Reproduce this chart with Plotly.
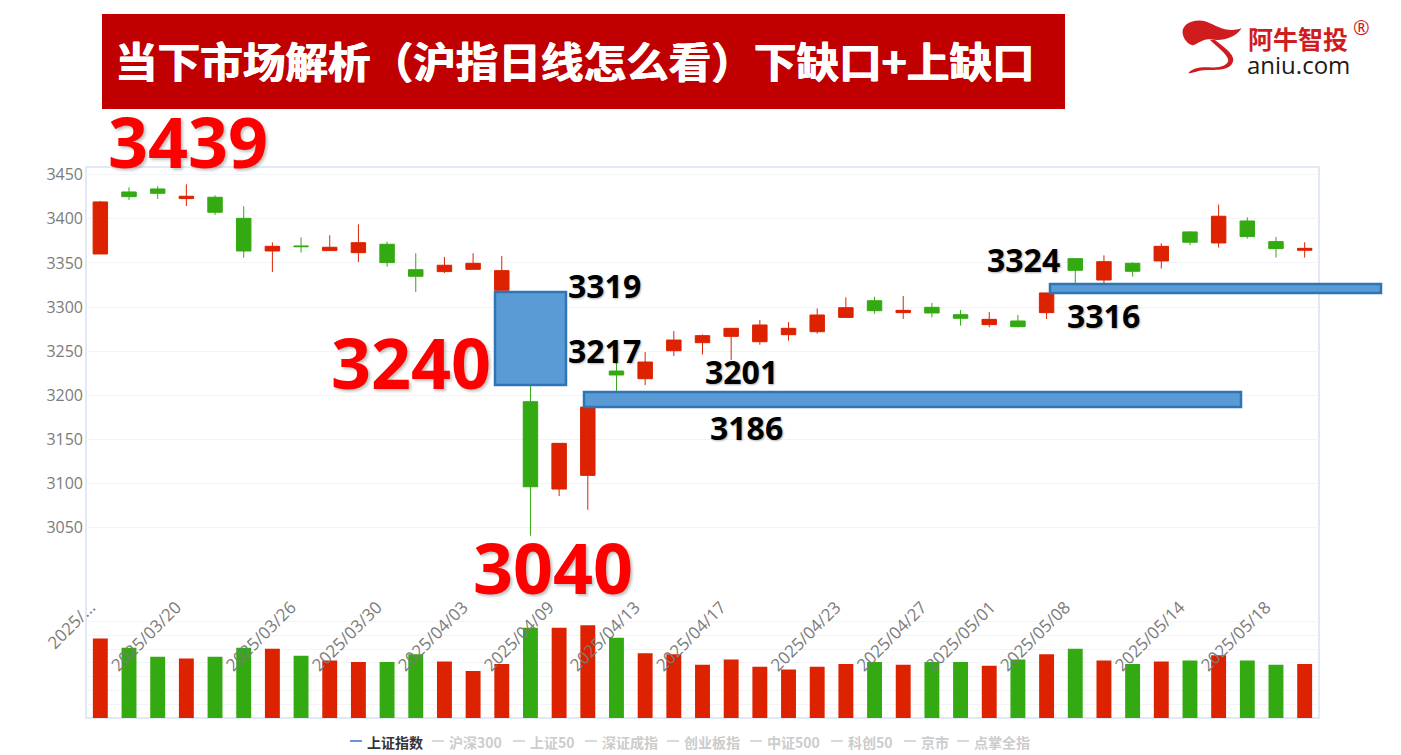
import plotly.graph_objects as go

W, H = 1401, 755
# plot frame in page pixels
L, R, T, B = 86, 1319, 167, 718

dates = ["03/17", "03/18", "03/19", "03/20", "03/21", "03/24", "03/25", "03/26", "03/27", "03/28", "03/30",
         "03/31", "04/01", "04/03", "04/04", "04/08", "04/09", "04/10", "04/11", "04/13", "04/14", "04/15",
         "04/17", "04/18", "04/21", "04/22", "04/23", "04/24", "04/25", "04/27", "04/28", "05/01", "05/06",
         "05/07", "05/08", "05/09", "05/12", "05/13", "05/14", "05/15", "05/16", "05/18", "05/19"]

opens = [3360.2, 3430.5, 3433.9, 3423.0, 3424.5, 3400.6, 3363.6, 3369.3, 3364.0, 3361.7, 3371.2, 3342.4, 3340.2,
         3342.8, 3319.0, 3192.7, 3093.7, 3109.2, 3227.5, 3218.8, 3250.5, 3259.6, 3266.8, 3260.7, 3268.7, 3272.1,
         3288.3, 3307.2, 3293.7, 3299.7, 3291.4, 3280.1, 3284.2, 3293.7, 3354.9, 3330.7, 3349.6, 3352.3, 3385.2,
         3372.7, 3397.6, 3374.2, 3364.4]
closes = [3419.2, 3425.2, 3429.0, 3425.6, 3407.5, 3363.6, 3368.9, 3368.5, 3367.8, 3373.0, 3350.4, 3334.9, 3347.4,
          3349.6, 3341.3, 3096.3, 3145.5, 3186.6, 3223.0, 3237.7, 3262.6, 3267.6, 3275.9, 3279.7, 3275.9, 3291.0,
          3299.3, 3295.9, 3296.3, 3293.3, 3287.3, 3286.1, 3277.8, 3316.0, 3341.7, 3351.5, 3340.6, 3368.9, 3373.5,
          3403.0, 3379.9, 3366.3, 3366.6]
highs = [3420.3, 3435.8, 3437.0, 3439.2, 3426.7, 3414.3, 3373.4, 3379.1, 3381.4, 3393.8, 3374.2, 3361.0, 3356.8,
         3361.0, 3357.9, 3217.0, 3145.5, 3186.6, 3237.0, 3249.0, 3272.8, 3269.0, 3275.9, 3285.3, 3283.0, 3298.5,
         3311.0, 3311.8, 3312.6, 3304.7, 3296.7, 3294.5, 3291.0, 3316.0, 3355.7, 3358.7, 3350.8, 3372.3, 3386.0,
         3416.2, 3401.8, 3379.5, 3373.5]
lows = [3360.0, 3421.4, 3422.6, 3414.6, 3404.4, 3356.0, 3339.8, 3361.7, 3364.0, 3351.1, 3345.8, 3317.1, 3338.7,
        3342.8, 3319.0, 3040.8, 3085.7, 3070.2, 3201.0, 3211.6, 3244.5, 3246.4, 3240.0, 3257.3, 3261.9, 3269.8,
        3288.3, 3292.5, 3286.5, 3288.4, 3279.0, 3277.1, 3277.1, 3286.5, 3324.0, 3326.0, 3334.5, 3343.6, 3370.4,
        3367.4, 3377.6, 3356.1, 3356.1]
volumes = [5772, 5096, 4444, 4323, 4444, 5096, 5023, 4516, 4178, 4057, 4057, 4637, 4105, 3405, 3912, 6545, 6545,
           6738, 5820, 4709, 4637, 3864, 4250, 3719, 3526, 3719, 3912, 4057, 3864, 4057, 4057, 3792, 4250, 4637,
           5023, 4178, 3912, 4105, 4178, 4564, 4178, 3864, 3912]

tick_idx = [0, 3, 7, 10, 13, 16, 19, 22, 26, 29, 31.4, 34, 38, 41]
tick_labels = ["2025/...", "2025/03/20", "2025/03/26", "2025/03/30", "2025/04/03", "2025/04/09", "2025/04/13",
               "2025/04/17", "2025/04/23", "2025/04/27", "2025/05/01", "2025/05/08", "2025/05/14", "2025/05/18"]

legend_names = ["上证指数", "沪深300", "上证50", "深证成指", "创业板指", "中证500", "科创50", "京市", "点掌全指"]
legend_x = [350, 432, 513, 585, 667, 750, 831, 904, 957]

RED = "#dd2200"
GREEN = "#33aa11"
BLUE = "#5b9bd5"
BLUE_EDGE = "#2e75b6"
GRID = "#f3f4f7"


def fx(p):
    return (p - L) / (R - L)


def fy(p):
    return (B - p) / (B - T)


def px_path(cmds):
    # cmds use the logo crop's 3x coords, turned into paper fractions
    out = []
    for c in cmds:
        if isinstance(c, str):
            out.append(c)
        else:
            out.append(f"{fx(1160 + c[0] / 3):.5f},{fy(5 + c[1] / 3):.5f}")
    return " ".join(out)


def note(text, x, y, size, color, bold=True, family="Open Sans", shadow=None, xanchor="center"):
    fig.add_annotation(
        text=f"<b>{text}</b>" if bold else text, xref="paper", yref="paper", x=fx(x), y=fy(y),
        showarrow=False, xanchor=xanchor, yanchor="middle",
        font=dict(family=family, size=size, color=color, shadow=shadow),
    )


def box(x0, y0, x1, y1, fill, edge=None, width=0):
    fig.add_shape(type="rect", xref="paper", yref="paper", x0=fx(x0), x1=fx(x1), y0=fy(y0), y1=fy(y1),
                  fillcolor=fill, line=dict(color=edge or fill, width=width), layer="above")


fig = go.Figure()
# volume sits on the first y axis so the date labels draw over its bars
fig.add_trace(go.Bar(
    x=dates, y=volumes, yaxis="y", width=0.52,
    marker=dict(color=[RED if c >= o else GREEN for o, c in zip(opens, closes)], line=dict(width=0)),
    hoverinfo="none", showlegend=False,
))
fig.add_trace(go.Candlestick(
    x=dates, open=opens, high=highs, low=lows, close=closes, yaxis="y2",
    increasing=dict(line=dict(color=RED, width=1), fillcolor=RED),
    decreasing=dict(line=dict(color=GREEN, width=1), fillcolor=GREEN),
    whiskerwidth=0, hoverinfo="none", showlegend=False,
))

fig.update_layout(
    width=W, height=H, margin=dict(l=L, r=W - R, t=T, b=H - B),
    paper_bgcolor="white", plot_bgcolor="white", boxgap=0.28, showlegend=False,
    xaxis=dict(
        type="category", categoryorder="array", categoryarray=dates, range=[-0.5, 42.5],
        rangeslider=dict(visible=False), anchor="free", position=fy(593), showline=False, showgrid=False,
        zeroline=False, ticks="", tickmode="array", tickvals=tick_idx, ticktext=tick_labels, tickangle=-45,
        ticklabelshift=-10, tickfont=dict(family="Open Sans", size=17, color="#7b7b7b"),
    ),
    yaxis2=dict(
        domain=[fy(538), 1], range=[3038.2, 3458.8], tickmode="linear", tick0=3050, dtick=50, showgrid=True,
        gridcolor=GRID, gridwidth=1, zeroline=False, showline=False, ticks="", ticklen=0, anchor="x",
        ticklabelstandoff=2, tickfont=dict(family="Open Sans", size=16, color="#7b7b7b"),
    ),
    yaxis=dict(
        domain=[0, 0.2], range=[0, 8000], tick0=0, dtick=1000, showgrid=True, gridcolor=GRID, gridwidth=1,
        zeroline=False, showline=False, showticklabels=False, ticks="", anchor="x",
    ),
)

# chart frame
fig.add_shape(type="rect", xref="paper", yref="paper", x0=0, x1=1, y0=0, y1=1,
              line=dict(color="#d9e2f3", width=1.5), layer="below")

# title banner
box(102, 14, 1065, 109, "#c00000")
note("当下市场解析（沪指日线怎么看）下缺口+上缺口", 574.5, 60, 42.6, "white", family="Noto Sans CJK SC",
     shadow="0.6px 0 0 white, -0.6px 0 0 white")

# gap boxes
box(495, 292, 566, 385, BLUE, BLUE_EDGE, 2.5)
box(584, 392, 1241, 407, BLUE, BLUE_EDGE, 2.5)
box(1050, 284, 1381, 293, BLUE, BLUE_EDGE, 2.5)

big_shadow = "2px 2px 3px rgba(0,0,0,0.25)"
for text, x, y in [("3439", 188, 141), ("3240", 411, 362), ("3040", 552.5, 567)]:
    note(text, x, y, 70, "#ff0000", shadow=big_shadow)
for text, x, y in [("3319", 604.5, 285), ("3217", 604.5, 350), ("3201", 741, 371), ("3186", 746, 427),
                   ("3324", 1023.5, 259), ("3316", 1103.5, 315)]:
    note(text, x, y, 32, "black", shadow="1px 1px 2px rgba(0,0,0,0.3)")

# logo
logo_red = "#cf1c1e"
fig.add_shape(type="path", xref="paper", yref="paper", fillcolor=logo_red, line=dict(width=0), layer="above",
              path=px_path(["M", (68, 75), "C", (75, 50), (110, 40), (140, 50), "C", (170, 62), (200, 85), (245, 70),
                            "C", (225, 100), (185, 110), (150, 103), "C", (125, 100), (105, 125), (95, 120),
                            "C", (80, 115), (65, 95), (68, 75), "Z"]))
fig.add_shape(type="path", xref="paper", yref="paper", fillcolor=logo_red, line=dict(width=0), layer="above",
              path=px_path(["M", (150, 105), "L", (165, 105), "C", (190, 125), (220, 145), (220, 165),
                            "C", (215, 195), (180, 195), (140, 195), "C", (115, 195), (100, 205), (85, 205),
                            "C", (95, 188), (125, 185), (150, 187), "C", (180, 190), (205, 180), (205, 165),
                            "C", (200, 145), (170, 125), (150, 105), "Z"]))
note("阿牛智投", 1298, 38, 25, logo_red, family="Noto Sans CJK SC")
note("aniu.com", 1298, 64, 24, "#231815", bold=False, family="Open Sans")
note("®", 1361, 27, 20, logo_red, bold=False, family="Open Sans")

# legend row
for i, (name, x) in enumerate(zip(legend_names, legend_x)):
    on = i == 0
    fig.add_shape(type="line", xref="paper", yref="paper", x0=fx(x), x1=fx(x + 12), y0=fy(741), y1=fy(741),
                  line=dict(color="#3b6fd4" if on else "#cccccc", width=1.5))
    note(name, x + 15, 742, 14, "#333333" if on else "#cccccc", family="Noto Sans CJK SC", xanchor="left")

fig.write_html("out.html", config={"displayModeBar": False}, post_script="document.body.style.margin='0';")
